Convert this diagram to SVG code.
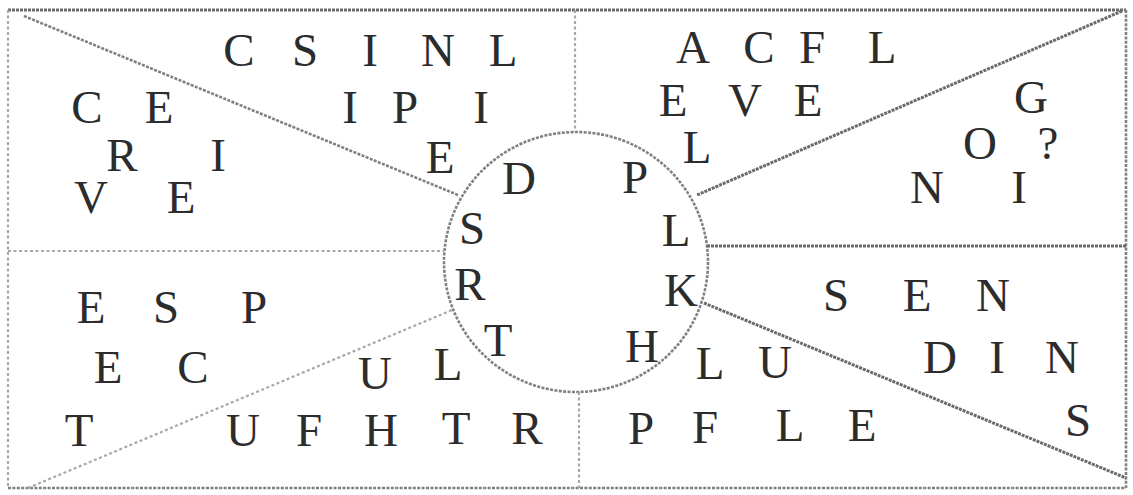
<svg xmlns="http://www.w3.org/2000/svg" width="1133" height="495" viewBox="0 0 1133 495">
<style>
.ln{fill:none;stroke:#808080;stroke-width:2.6;stroke-dasharray:3 1.4}
.lt{fill:none;stroke:#a8a8a8;stroke-width:2.2;stroke-dasharray:3 2.5}
.dk{fill:none;stroke:#6a6a6a;stroke-width:3;stroke-dasharray:3 1}
text{font-family:"Liberation Serif","Times New Roman",serif;font-size:47px;fill:#2c2c2c;text-anchor:middle}
</style>
<rect width="1133" height="495" fill="#ffffff"/>
<g id="connectors">
<line class="dk" x1="8" y1="10" x2="1126" y2="10"/>
<line class="lt" x1="8" y1="10" x2="8" y2="488"/>
<line class="ln" x1="8" y1="488" x2="1126" y2="488"/>
<line class="ln" x1="1126" y1="10" x2="1126" y2="488"/>
<ellipse class="ln" cx="576" cy="262" rx="132" ry="130"/>
<line class="lt" x1="575" y1="10" x2="575" y2="132"/>
<line class="lt" x1="579" y1="392" x2="579" y2="488"/>
<line class="lt" x1="8" y1="251" x2="444" y2="251"/>
<line class="dk" x1="707" y1="246" x2="1126" y2="246"/>
<line class="ln" x1="24" y1="16" x2="458" y2="195"/>
<line class="dk" x1="1122" y1="11" x2="697" y2="195"/>
<line class="lt" x1="28" y1="488" x2="452" y2="310"/>
<line class="dk" x1="704" y1="303" x2="1126" y2="478"/>
</g>
<g id="top-left">
<text x="239" y="66">C</text><text x="305" y="66">S</text><text x="370" y="66">I</text><text x="438" y="66">N</text><text x="503" y="66">L</text>
<text x="87" y="123">C</text><text x="159" y="123">E</text><text x="350" y="123">I</text><text x="405" y="123">P</text><text x="481" y="123">I</text>
<text x="122" y="171">R</text><text x="218" y="171">I</text><text x="440" y="173">E</text>
<text x="91" y="213">V</text><text x="181" y="213">E</text>
</g>
<g id="circle-left">
<text x="519" y="194">D</text><text x="472" y="244">S</text><text x="470" y="300">R</text><text x="498" y="356">T</text>
</g>
<g id="top-right">
<text x="693" y="63">A</text><text x="759" y="63">C</text><text x="812" y="63">F</text><text x="882" y="63">L</text>
<text x="673" y="116">E</text><text x="745" y="116">V</text><text x="808" y="116">E</text><text x="1031" y="113">G</text>
<text x="697" y="163">L</text><text x="980" y="159">O</text><text x="1048" y="159">?</text>
<text x="635" y="193">P</text><text x="927" y="203">N</text><text x="1019" y="203">I</text>
</g>
<g id="circle-right">
<text x="676" y="246">L</text><text x="681" y="306">K</text><text x="642" y="362">H</text>
</g>
<g id="bottom-left">
<text x="91" y="323">E</text><text x="166" y="323">S</text><text x="254" y="323">P</text>
<text x="108" y="383">E</text><text x="193" y="383">C</text><text x="375" y="389">U</text><text x="448" y="380">L</text>
<text x="79" y="446">T</text><text x="243" y="446">U</text><text x="309" y="446">F</text><text x="381" y="446">H</text><text x="456" y="444">T</text><text x="527" y="444">R</text>
</g>
<g id="bottom-right">
<text x="836" y="311">S</text><text x="917" y="311">E</text><text x="993" y="311">N</text>
<text x="710" y="379">L</text><text x="775" y="378">U</text><text x="940" y="373">D</text><text x="997" y="373">I</text><text x="1062" y="373">N</text>
<text x="641" y="444">P</text><text x="705" y="443">F</text><text x="790" y="441">L</text><text x="862" y="441">E</text><text x="1078" y="436">S</text>
</g>
</svg>
